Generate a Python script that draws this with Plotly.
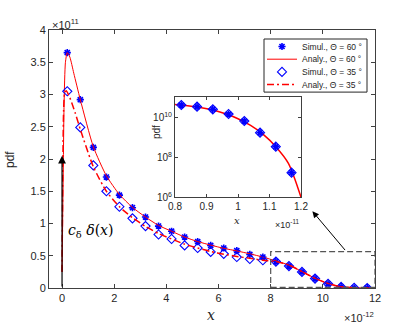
import plotly.graph_objects as go

# ---- data (x in units of 1e-12, main pdf in units of 1e11) ----
sim_x = [0.2, 0.7, 1.2, 1.7, 2.2, 2.7, 3.2, 3.7, 4.2, 4.7, 5.2, 5.7, 6.2, 6.7, 7.2, 7.7,
         8.2, 8.7, 9.2, 9.7, 10.2, 10.7, 11.2, 11.7]
sim60_head = [3.65, 2.92, 2.18, 1.72, 1.44, 1.245, 1.10, 0.96, 0.88, 0.79, 0.72, 0.66,
              0.62, 0.58, 0.52, 0.48]
sim35_head = [3.05, 2.49, 1.90, 1.50, 1.26, 1.08, 0.96, 0.83, 0.76, 0.66, 0.62, 0.56,
              0.53, 0.48, 0.45, 0.43]
# tail (x >= 8.2e-12), absolute pdf values shared by both angles
tail_pdf = [4.1e10, 3.4e10, 2.5e10, 1.46e10, 6.5e9, 1.7e9, 3.4e8, 1.7e7]

ana60_x = [0.0, 0.04, 0.08, 0.13, 0.2, 0.3, 0.45, 0.7, 1.2, 1.7, 2.2, 2.7, 3.2, 3.7, 4.2,
           4.7, 5.2, 5.7, 6.2, 6.7, 7.2, 7.7, 8.2, 8.7, 9.2, 9.7, 10.2, 10.7, 11.2, 11.7, 12.0]
ana60_y = [0.25, 1.6, 2.9, 3.5, 3.65, 3.58, 3.33, 2.92, 2.19, 1.74, 1.45, 1.25, 1.10, 0.97,
           0.88, 0.79, 0.72, 0.665, 0.615, 0.575, 0.53, 0.48, 0.42, 0.355, 0.255, 0.15,
           0.07, 0.02, 0.005, 0.0, 0.0]
ana35_x = [0.0, 0.03, 0.06, 0.1, 0.16, 0.3, 0.5, 0.7, 1.2, 1.7, 2.2, 2.7, 3.2, 3.7, 4.2,
           4.7, 5.2, 5.7, 6.2, 6.7, 7.2, 7.7, 8.2, 8.7, 9.2, 9.7, 10.2, 10.7, 11.2, 11.7, 12.0]
ana35_y = [0.25, 1.8, 2.75, 3.02, 3.06, 2.95, 2.72, 2.46, 1.88, 1.50, 1.26, 1.09, 0.955,
           0.845, 0.76, 0.68, 0.62, 0.565, 0.525, 0.49, 0.46, 0.43, 0.41, 0.355, 0.255,
           0.15, 0.07, 0.02, 0.005, 0.0, 0.0]

# inset (x in units of 1e-11)
inset_curve_x = [0.8, 0.84, 0.88, 0.92, 0.96, 1.0, 1.04, 1.08, 1.12, 1.16, 1.2]
inset_curve_y = [4.4e10, 3.8e10, 3.1e10, 2.3e10, 1.5e10, 8.5e9, 3.9e9, 1.4e9, 3.4e8, 5.0e7, 1.0e6]

x_ticks = [0, 2, 4, 6, 8, 10, 12]
y_ticks = [0, 0.5, 1, 1.5, 2, 2.5, 3, 3.5, 4]
inset_x_ticks = [0.8, 0.9, 1.0, 1.1, 1.2]
inset_x_labels = ["0.8", "0.9", "1", "1.1", "1.2"]
inset_y_ticks = [1e6, 1e8, 1e10]
inset_y_labels = ["10<sup>6</sup>", "10<sup>8</sup>", "10<sup>10</sup>"]

legend_names = ["Simul., Θ = 60 °", "Analy., Θ = 60 °", "Simul., Θ = 35 °", "Analy., Θ = 35 °"]

# derived series
sim60 = sim60_head + [v / 1e11 for v in tail_pdf]
sim35 = sim35_head + [v / 1e11 for v in tail_pdf]
tail_x = [v / 10 for v in sim_x[16:]]

BLUE = "#0000ff"
RED = "#ff0000"
AX = "#404040"
TXT = "#262626"
FONT = "Liberation Sans"

star = dict(symbol="asterisk-open", size=6, color=BLUE, line=dict(color=BLUE, width=1.6))
diam = dict(symbol="diamond-open", size=7, color=BLUE, line=dict(color=BLUE, width=1.1))
solid = dict(color=RED, width=1, shape="spline", smoothing=0.6)
dashdot = dict(color=RED, width=1.5, dash="7px,3px,2px,3px", shape="spline", smoothing=0.6)

fig = go.Figure()
fig.add_trace(go.Scatter(x=sim_x, y=sim60, mode="markers", name=legend_names[0],
                         marker=star, showlegend=False))
fig.add_trace(go.Scatter(x=ana60_x, y=ana60_y, mode="lines", name=legend_names[1],
                         line=solid, showlegend=False))
fig.add_trace(go.Scatter(x=sim_x, y=sim35, mode="markers", name=legend_names[2],
                         marker=diam, showlegend=False))
fig.add_trace(go.Scatter(x=ana35_x, y=ana35_y, mode="lines", name=legend_names[3],
                         line=dashdot, showlegend=False))

# inset traces
fig.add_trace(go.Scatter(x=inset_curve_x, y=inset_curve_y, mode="lines", showlegend=False,
                         xaxis="x2", yaxis="y2",
                         line=dict(color=RED, width=1.5, shape="spline", smoothing=0.8)))
fig.add_trace(go.Scatter(x=tail_x, y=tail_pdf, mode="markers", showlegend=False,
                         xaxis="x2", yaxis="y2", marker=star))
fig.add_trace(go.Scatter(x=tail_x, y=tail_pdf, mode="markers", showlegend=False,
                         xaxis="x2", yaxis="y2", marker=diam))

# ---- compact legend (MATLAB style) drawn on an overlay axis in pixel units ----
LX0, LX1, LY0 = 264, 367, 39
ROW_H, ROW0 = 12.7, 7.5
SYM_X0, SYM_X1, TEXT_X = 267, 297, 300
rows = [LY0 + ROW0 + i * ROW_H for i in range(len(legend_names))]
styles = [("m", star), ("l", solid), ("m", diam), ("l", dashdot)]
anns = []
for (kind, st), ry, nm in zip(styles, rows, legend_names):
    if kind == "m":
        fig.add_trace(go.Scatter(x=[(SYM_X0 + SYM_X1) / 2], y=[ry], mode="markers",
                                 marker=st, xaxis="x3", yaxis="y3", showlegend=False,
                                 hoverinfo="skip"))
    else:
        fig.add_trace(go.Scatter(x=[SYM_X0, SYM_X1], y=[ry, ry], mode="lines",
                                 line={k: v for k, v in st.items() if k not in ("shape", "smoothing")},
                                 xaxis="x3", yaxis="y3", showlegend=False, hoverinfo="skip"))
    anns.append(dict(text=nm, x=TEXT_X, y=ry, xref="x3", yref="y3", xanchor="left",
                     yanchor="middle", showarrow=False,
                     font=dict(family=FONT, size=8.5, color=TXT)))

axis_common = dict(showgrid=False, zeroline=False, showline=True, linecolor=AX,
                   linewidth=1, mirror="ticks", ticks="inside", ticklen=4,
                   tickcolor=AX, automargin=False,
                   tickfont=dict(family=FONT, size=11, color=TXT))
inset_common = {**axis_common, "tickfont": dict(family=FONT, size=10, color=TXT),
                "ticklen": 3}

fig.update_layout(
    width=399, height=334,
    margin=dict(l=0, r=0, t=0, b=0, autoexpand=False),
    paper_bgcolor="white", plot_bgcolor="rgba(0,0,0,0)",
    showlegend=False,
    xaxis=dict(domain=[49/399, 375/399], range=[-0.5, 12], tickvals=x_ticks,
               anchor="y", **axis_common),
    yaxis=dict(domain=[1-288/334, 1-30/334], range=[0, 4], tickvals=y_ticks,
               anchor="x", **axis_common),
    xaxis2=dict(domain=[175/399, 301/399], range=[0.8, 1.2], tickvals=inset_x_ticks,
                ticktext=inset_x_labels, anchor="y2", **inset_common),
    yaxis2=dict(domain=[1-197.3/334, 1-97.3/334], type="log", range=[6, 11],
                tickvals=inset_y_ticks, ticktext=inset_y_labels,
                anchor="x2", **inset_common),
    xaxis3=dict(domain=[0, 1], range=[0, 399], visible=False, fixedrange=True,
                anchor="y3"),
    yaxis3=dict(domain=[0, 1], range=[334, 0], visible=False, fixedrange=True,
                anchor="x3"),
    shapes=[
        dict(type="rect", xref="x", yref="y", x0=8, x1=12, y0=0.01, y1=0.565,
             line=dict(color="#555555", width=1.2, dash="6px,3px")),
        dict(type="rect", xref="x3", yref="y3", x0=LX0, x1=LX1, y0=LY0,
             y1=LY0 + 2 * ROW0 + (len(legend_names) - 1) * ROW_H,
             line=dict(color=TXT, width=1), fillcolor="white", layer="below"),
    ],
)

anns += [
    dict(text="×10<sup>11</sup>", x=50, y=24, xref="x3", yref="y3",
         xanchor="left", yanchor="middle", showarrow=False,
         font=dict(family=FONT, size=11, color=TXT)),
    dict(text="×10<sup>-12</sup>", x=376, y=317, xref="x3", yref="y3",
         xanchor="right", yanchor="middle", showarrow=False,
         font=dict(family=FONT, size=11, color=TXT)),
    dict(text="pdf", x=10, y=160, xref="x3", yref="y3", textangle=-90,
         showarrow=False, font=dict(family=FONT, size=12, color=TXT)),
    dict(text="<i>x</i>", x=211, y=315, xref="x3", yref="y3", xanchor="center",
         yanchor="middle", showarrow=False,
         font=dict(family="DejaVu Serif", size=14, color=TXT)),
    dict(text="<i>x</i>", x=237, y=220, xref="x3", yref="y3", xanchor="center",
         yanchor="middle", showarrow=False,
         font=dict(family="DejaVu Serif", size=10, color=TXT)),
    dict(text="×10<sup>-11</sup>", x=301, y=224, xref="x3", yref="y3",
         xanchor="right", yanchor="middle", showarrow=False,
         font=dict(family=FONT, size=9, color=TXT)),
    dict(text="pdf", x=156, y=132, xref="x3", yref="y3", textangle=-90,
         showarrow=False, font=dict(family=FONT, size=10, color=TXT)),
    dict(text="<i>c</i><sub>δ</sub> <i>δ</i>(<i>x</i>)", x=1.1, y=0.88, xref="x", yref="y",
         xanchor="center", yanchor="middle", showarrow=False,
         font=dict(family="DejaVu Serif", size=14, color="#000000")),
    # delta arrow
    dict(x=0, y=2.05, ax=0, ay=0.0, xref="x", yref="y", axref="x", ayref="y", text="",
         showarrow=True, arrowhead=2, arrowsize=1.3, arrowwidth=1.2, arrowcolor="#000000"),
    # zoom arrow
    dict(x=9.6, y=1.19, ax=10.9, ay=0.565, xref="x", yref="y", axref="x", ayref="y",
         text="", showarrow=True, arrowhead=2, arrowsize=1.3, arrowwidth=1,
         arrowcolor="#000000"),
]
fig.update_layout(annotations=anns)

fig.write_html("out.html", config={"displayModeBar": False},
               post_script="document.body.style.margin='0px';")
